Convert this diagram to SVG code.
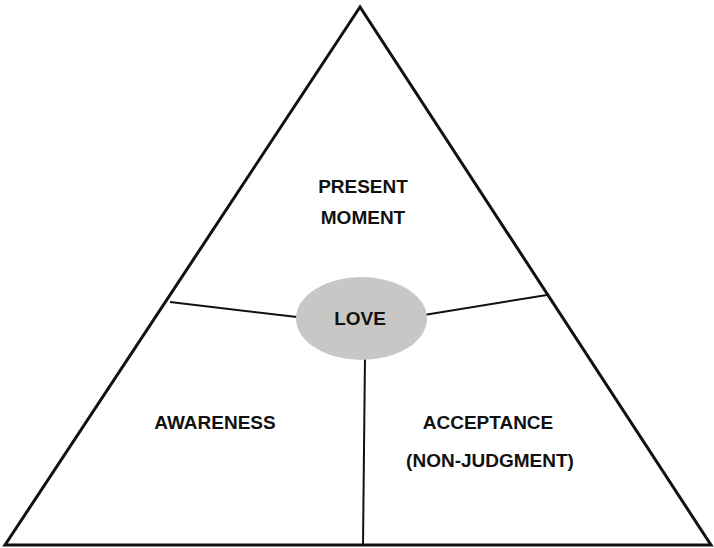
<svg xmlns="http://www.w3.org/2000/svg" width="714" height="548" viewBox="0 0 714 548">
<style>
.t{font-family:"Liberation Sans",Arial,sans-serif;font-weight:bold;font-size:19px;fill:#111;text-anchor:middle}
.c{stroke:#111;stroke-width:2;fill:none}
</style>
<rect width="714" height="548" fill="#fff"/>
<g id="triangle">
<polygon points="360,7 5,545 711,545" fill="none" stroke="#111" stroke-width="3" stroke-linejoin="miter"/>
</g>
<g id="connectors">
<line class="c" x1="170" y1="302" x2="297" y2="317"/>
<line class="c" x1="424" y1="315" x2="547" y2="295"/>
<line class="c" x1="365" y1="356" x2="363" y2="545"/>
</g>
<g id="love">
<ellipse cx="361.5" cy="318.5" rx="65.5" ry="41.5" fill="#c9c7c6"/>
<text class="t" x="360" y="325">LOVE</text>
</g>
<g id="present">
<text class="t" x="363" y="193">PRESENT</text>
<text class="t" x="363" y="224">MOMENT</text>
</g>
<g id="awareness">
<text class="t" x="215" y="429">AWARENESS</text>
</g>
<g id="acceptance">
<text class="t" x="488" y="429">ACCEPTANCE</text>
<text class="t" x="490" y="467">(NON-JUDGMENT)</text>
</g>
</svg>
